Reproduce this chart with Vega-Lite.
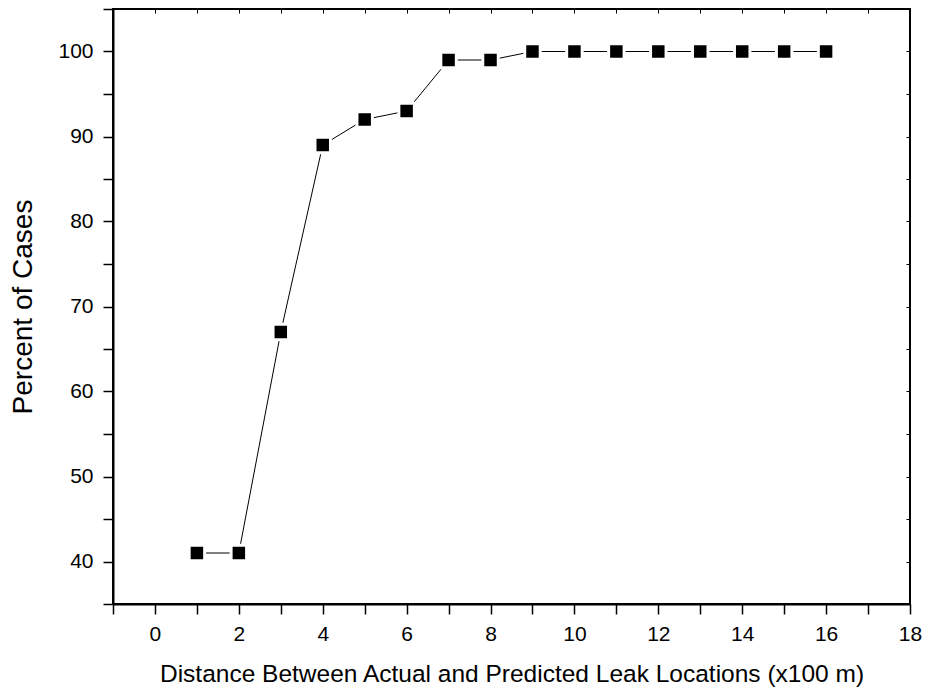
{
  "$schema": "https://vega.github.io/schema/vega-lite/v6.json",
  "width": 797,
  "height": 595,
  "autosize": "none",
  "padding": {"left": 113, "top": 9, "right": 15, "bottom": 89},
  "background": "white",
  "config": {
    "view": {"stroke": "black", "strokeWidth": 2},
    "font": "Liberation Sans",
    "axis": {
      "labelFont": "Liberation Sans",
      "titleFont": "Liberation Sans",
      "labelFontSize": 21,
      "tickSize": 10,
      "titleFontWeight": "normal",
      "labelColor": "black",
      "titleColor": "black",
      "domainColor": "black",
      "tickColor": "black",
      "domainWidth": 2,
      "tickWidth": 1.5,
      "grid": false
    }
  },
  "data": {
    "values": [
      {"d": 1, "p": 41},
      {"d": 2, "p": 41},
      {"d": 3, "p": 67},
      {"d": 4, "p": 89},
      {"d": 5, "p": 92},
      {"d": 6, "p": 93},
      {"d": 7, "p": 99},
      {"d": 8, "p": 99},
      {"d": 9, "p": 100},
      {"d": 10, "p": 100},
      {"d": 11, "p": 100},
      {"d": 12, "p": 100},
      {"d": 13, "p": 100},
      {"d": 14, "p": 100},
      {"d": 15, "p": 100},
      {"d": 16, "p": 100}
    ]
  },
  "resolve": {"axis": {"x": "independent", "y": "independent"}},
  "layer": [
    {
      "mark": {"type": "line", "color": "black", "strokeWidth": 1},
      "encoding": {
        "x": {
          "field": "d", "type": "quantitative",
          "scale": {"domain": [-1, 18], "nice": false, "zero": false},
          "axis": {
            "orient": "bottom",
            "title": "Distance Between Actual and Predicted Leak Locations (x100 m)",
            "values": [-1, 0, 1, 2, 3, 4, 5, 6, 7, 8, 9, 10, 11, 12, 13, 14, 15, 16, 17, 18],
            "labelExpr": "datum.value % 2 === 0 ? datum.label : ''",
            "tickSize": 10,
            "encode": {
              "ticks": {"update": {"y2": {"signal": "datum.value % 2 === 0 ? 10 : 5"}}}
            },
            "labelFontSize": 21,
            "titleFontSize": 24.5,
            "labelPadding": 9,
            "titlePadding": 18,
            "labelFlush": false,
            "labelOverlap": false
          }
        },
        "y": {
          "field": "p", "type": "quantitative",
          "scale": {"domain": [35, 105], "nice": false, "zero": false},
          "axis": {
            "orient": "left",
            "title": "Percent of Cases",
            "values": [35, 40, 45, 50, 55, 60, 65, 70, 75, 80, 85, 90, 95, 100, 105],
            "labelExpr": "datum.value % 10 === 0 ? datum.label : ''",
            "tickSize": 10,
            "encode": {
              "ticks": {"update": {"x2": {"signal": "datum.value % 10 === 0 ? -10 : -5"}}}
            },
            "labelFontSize": 21,
            "titleFontSize": 28,
            "labelPadding": 10,
            "titlePadding": 20,
            "labelFlush": false,
            "labelOverlap": false
          }
        }
      }
    },
    {
      "mark": {"type": "point", "shape": "square", "filled": true, "size": 240, "color": "black", "stroke": "white", "strokeWidth": 3, "opacity": 1},
      "encoding": {
        "x": {
          "field": "d", "type": "quantitative",
          "axis": {
            "orient": "top",
            "title": null,
            "labels": false,
            "domain": false,
            "values": [-1, 0, 1, 2, 3, 4, 5, 6, 7, 8, 9, 10, 11, 12, 13, 14, 15, 16, 17, 18],
            "tickSize": -4,
            "tickWidth": 1
          }
        },
        "y": {
          "field": "p", "type": "quantitative",
          "axis": {
            "orient": "right",
            "title": null,
            "labels": false,
            "domain": false,
            "values": [35, 40, 45, 50, 55, 60, 65, 70, 75, 80, 85, 90, 95, 100, 105],
            "tickSize": -4,
            "tickWidth": 1
          }
        }
      }
    }
  ]
}
